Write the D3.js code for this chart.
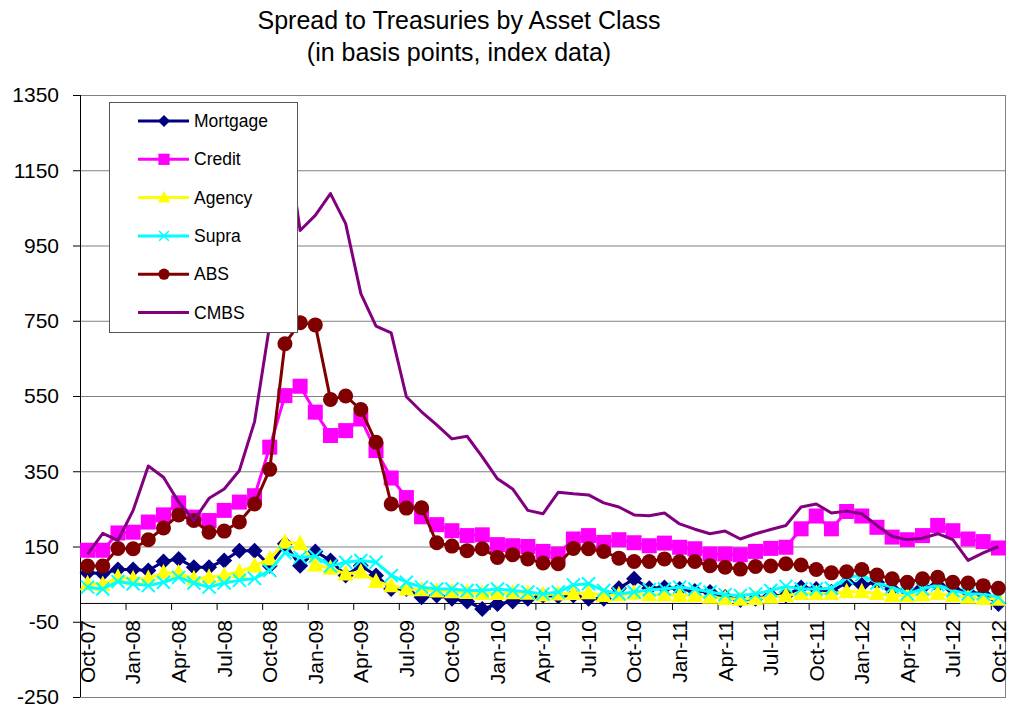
<!DOCTYPE html>
<meta charset="utf-8">
<style>
  body { margin: 0; background: #fff; }
  svg { display: block; font-family: "Liberation Sans", Arial, sans-serif; }
  .title { font-size: 25px; text-anchor: middle; }
  .tick-label { font-size: 21px; }
  .legend-label { font-size: 17.5px; }
</style>
<svg width="1010" height="708"></svg>
<script src="https://cdn.jsdelivr.net/npm/d3@7"></script>
<script>
// categories: monthly, Oct-07 .. Oct-12
var months = d3.timeMonth.range(new Date(2007, 9, 1), new Date(2012, 10, 1));
var yTicks = [-250, -50, 150, 350, 550, 750, 950, 1150, 1350];

var mortgage = [80, 78, 89, 89, 86, 110, 117, 95, 95, 113, 139, 139, 99, 157, 99, 137, 113, 73, 99, 73,
  37, 37, 15, 20, 11, 4, -16, -3, 4, 11, 20, 18, 20, 11, 11, 39, 64, 39, 41, 37,
  32, 29, 16, 8, 11, 20, 20, 41, 37, 30, 55, 48, 55, 37, 32, 41, 48, 37, 29, 24, -3];
var credit = [140, 140, 186, 188, 215, 234, 266, 228, 219, 246, 268, 285, 414, 551, 576, 507, 445, 458, 489, 405,
  332, 280, 229, 208, 192, 179, 181, 155, 152, 150, 137, 130, 170, 179, 161, 168, 160, 152, 159, 148,
  144, 130, 130, 128, 137, 145, 148, 197, 231, 197, 243, 231, 201, 175, 168, 179, 206, 192, 170, 163, 146];
var agency = [51, 49, 68, 64, 65, 80, 80, 64, 68, 73, 83, 98, 117, 161, 158, 101, 92, 77, 82, 57,
  46, 37, 35, 32, 30, 28, 25, 25, 27, 26, 22, 24, 25, 27, 20, 22, 26, 22, 22, 20,
  20, 15, 12, 10, 12, 15, 20, 25, 25, 25, 30, 30, 25, 20, 20, 22, 25, 20, 15, 12, 10];
var supra = [42, 37, 57, 51, 46, 55, 68, 53, 42, 53, 60, 65, 86, 133, 121, 124, 98, 108, 113, 108,
  73, 55, 42, 37, 37, 33, 33, 37, 33, 29, 24, 29, 48, 51, 33, 24, 29, 35, 37, 42,
  37, 29, 22, 20, 24, 33, 44, 37, 37, 39, 66, 75, 53, 42, 24, 37, 48, 33, 24, 24, 15];
var abs = [98, 98, 145, 144, 168, 199, 234, 219, 188, 191, 215, 263, 355, 689, 745, 739, 541, 550, 514, 427,
  263, 252, 253, 160, 151, 139, 144, 121, 128, 117, 106, 104, 145, 144, 137, 119, 110, 110, 117, 110,
  110, 99, 95, 90, 97, 98, 104, 101, 89, 80, 83, 89, 74, 64, 55, 64, 68, 55, 53, 46, 39];
var cmbs = [130, 185, 166, 246, 364, 334, 268, 219, 278, 303, 352, 482, 740, 1270, 990, 1030, 1088, 1008, 822, 736,
  718, 548, 508, 473, 436, 443, 388, 330, 303, 246, 237, 294, 290, 287, 266, 255, 234, 232, 239, 210,
  196, 184, 191, 170, 184, 195, 206, 255, 263, 239, 244, 237, 206, 177, 168, 172, 184, 168, 113, 133, 150];

var series = [
  {name: "Mortgage", values: mortgage, color: "#000080", marker: "diamond"},
  {name: "Credit", values: credit, color: "#FF00FF", marker: "square"},
  {name: "Agency", values: agency, color: "#FFFF00", marker: "triangle"},
  {name: "Supra", values: supra, color: "#00FFFF", marker: "cross"},
  {name: "ABS", values: abs, color: "#800000", marker: "circle"},
  {name: "CMBS", values: cmbs, color: "#800080", marker: null}
];

var svg = d3.select("svg");
var fmt = d3.timeFormat("%b-%y");

var x = d3.scaleBand().domain(d3.range(months.length)).range([80, 1006]).padding(0);
var y = d3.scaleLinear().domain([-250, 1350]).range([697, 95]);
var cx = function(i) { return x(i) + x.bandwidth() / 2; };

// title
svg.append("text").attr("class", "title").attr("x", 459).attr("y", 29)
    .text("Spread to Treasuries by Asset Class");
svg.append("text").attr("class", "title").attr("x", 459).attr("y", 61)
    .text("(in basis points, index data)");

// gridlines
svg.append("g").selectAll("line").data(yTicks).enter().append("line")
    .attr("x1", 80).attr("x2", 1006)
    .attr("y1", function(d) { return y(d) + 0.5; })
    .attr("y2", function(d) { return y(d) + 0.5; })
    .attr("stroke", "#808080").attr("stroke-width", 1);
// right border
svg.append("line").attr("x1", 1005.5).attr("x2", 1005.5).attr("y1", y(1350)).attr("y2", y(-250))
    .attr("stroke", "#808080");

// value axis
var yAxis = svg.append("g");
yAxis.append("line").attr("x1", 80.5).attr("x2", 80.5).attr("y1", y(1350)).attr("y2", y(-250))
    .attr("stroke", "#000");
yAxis.selectAll(".tk").data(yTicks).enter().append("line")
    .attr("x1", 73).attr("x2", 80)
    .attr("y1", function(d) { return y(d) + 0.5; })
    .attr("y2", function(d) { return y(d) + 0.5; })
    .attr("stroke", "#000");
yAxis.selectAll("text").data(yTicks).enter().append("text")
    .attr("class", "tick-label")
    .attr("x", 59).attr("y", function(d) { return y(d); })
    .attr("dy", "0.35em").attr("text-anchor", "end")
    .text(function(d) { return d; });

// category axis at zero
var labIdx = d3.range(0, months.length, 3);
var xAxis = svg.append("g");
xAxis.append("line").attr("x1", 80).attr("x2", 1006)
    .attr("y1", y(0) + 0.5).attr("y2", y(0) + 0.5).attr("stroke", "#000");
xAxis.selectAll("line.tk").data(labIdx).enter().append("line")
    .attr("class", "tk")
    .attr("x1", function(i) { return x(i) + 0.5; })
    .attr("x2", function(i) { return x(i) + 0.5; })
    .attr("y1", y(0)).attr("y2", y(0) + 7)
    .attr("stroke", "#000");
xAxis.selectAll("text").data(labIdx).enter().append("text")
    .attr("class", "tick-label")
    .attr("text-anchor", "end").attr("dy", "0.35em")
    .attr("transform", function(i) { return "translate(" + cx(i) + ",620) rotate(-90)"; })
    .text(function(i) { return fmt(months[i]); });

// markers
function drawMarker(g, type, color) {
  if (type === "diamond") {
    g.append("path").attr("d", "M0,-8L8,0L0,8L-8,0Z").attr("fill", color);
  } else if (type === "square") {
    g.append("rect").attr("x", -7.5).attr("y", -7.5).attr("width", 15).attr("height", 15).attr("fill", color);
  } else if (type === "triangle") {
    g.append("path").attr("d", "M0,-9L8,6.5L-8,6.5Z").attr("fill", color);
  } else if (type === "cross") {
    g.append("path").attr("d", "M-6.5,-6.5L6.5,6.5M-6.5,6.5L6.5,-6.5").attr("stroke", color).attr("stroke-width", 2);
  } else if (type === "circle") {
    g.append("circle").attr("r", 7.5).attr("fill", color);
  }
}

var line = d3.line().x(function(d, i) { return cx(i); }).y(function(d) { return y(d); });

var plot = svg.append("g");
series.forEach(function(s) {
  var g = plot.append("g");
  g.append("path").attr("d", line(s.values)).attr("fill", "none")
      .attr("stroke", s.color).attr("stroke-width", 3).attr("stroke-linejoin", "round");
  if (s.marker) {
    s.values.forEach(function(v, i) {
      var m = g.append("g").attr("transform", "translate(" + cx(i) + "," + y(v) + ")");
      drawMarker(m, s.marker, s.color);
    });
  }
});

// legend
var legend = svg.append("g");
legend.append("rect").attr("x", 109.5).attr("y", 102.5).attr("width", 188).attr("height", 230)
    .attr("fill", "#fff").attr("stroke", "#555");
series.forEach(function(s, k) {
  var ly = 121 + k * 38.3;
  legend.append("line").attr("x1", 138).attr("x2", 189).attr("y1", ly).attr("y2", ly)
      .attr("stroke", s.color).attr("stroke-width", 3);
  if (s.marker) {
    var m = legend.append("g").attr("transform", "translate(164," + ly + ")scale(0.75)");
    drawMarker(m, s.marker, s.color);
  }
  legend.append("text").attr("class", "legend-label").attr("x", 194).attr("y", ly)
      .attr("dy", "0.35em").text(s.name);
});
</script>
